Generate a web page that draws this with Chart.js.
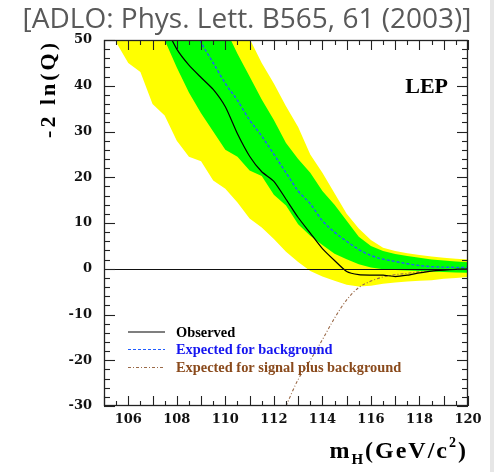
<!DOCTYPE html>
<html>
<head>
<meta charset="utf-8">
<script src="https://cdn.jsdelivr.net/npm/chart.js@4.4.0/dist/chart.umd.min.js"></script>
<style>
  html, body { margin: 0; padding: 0; background: #fff; }
</style>
</head>
<body>
<canvas id="lepChart" width="494" height="472"></canvas>
<script>
// Higgs mass hypotheses (GeV/c^2)
const massPoints = [105, 105.5, 106, 106.5, 107, 107.5, 108, 108.5, 109, 109.5,
  110, 110.5, 111, 111.5, 112, 112.5, 113, 113.5, 114, 114.5,
  115, 115.5, 116, 116.5, 117, 117.5, 118, 118.5, 119, 119.5, 120];

// -2 ln(Q) bands around the background expectation
const band2Low = [58, 49.5, 45, 43, 36, 33.5, 28, 24.5, 23.5, 19.3,
  17.5, 14.5, 11, 9, 6.5, 3.7, 1.5, -0.5, -1.7, -2.6,
  -3.5, -3.9, -3.7, -3.3, -3.0, -2.8, -2.6, -2.5, -2.2, -2.0, -1.8];
const band2High = [110, 105, 100, 95, 90, 85, 80, 75, 70, 65,
  60, 55, 50.3, 45, 40.5, 35.5, 31, 25, 21, 16.5,
  12, 8.8, 6.3, 4.6, 3.9, 3.4, 3.0, 2.7, 2.4, 2.2, 2.0];
const band1Low = [70, 65, 61, 57, 54, 50, 44, 38.5, 34, 30,
  26, 24.5, 21.5, 20.3, 16.2, 13.8, 9.7, 7.2, 5.2, 3.3,
  2.1, 1.0, 0.3, -0.1, -0.3, -0.4, -0.5, -0.6, -0.7, -0.8, -0.9];
const band1High = [102, 97, 92, 87, 82, 77, 72, 67, 62, 57,
  52.5, 47, 42, 37, 32.5, 27.5, 24, 21, 17, 14,
  10.5, 7, 5, 3.9, 3.2, 2.8, 2.4, 2.0, 1.8, 1.6, 1.4];

const observed = [74, 70, 66, 62, 58, 53.2, 48, 44.5, 41.8, 39.2,
  35.4, 29.5, 24.6, 21.2, 19.1, 15.2, 11.2, 7.8, 4.4, 1.8,
  -0.6, -1.3, -1.4, -1.4, -1.7, -1.4, -0.9, -0.5, -0.3, -0.15, -0.05];
const expectedBkg = [92, 86.5, 81, 75.5, 70, 65, 60, 55, 49.5, 45,
  40.5, 36.8, 32.5, 29, 25, 21, 17, 14.2, 10.5, 8,
  6, 4.2, 2.9, 2.1, 1.6, 1.1, 0.7, 0.45, 0.35, 0.3, 0.25];
const expectedSigBkg = [null, null, null, null, null, null, null, null, null, null,
  null, null, null, null, null, -30, -24.2, -20, -15.5, -10.8,
  -6.8, -4.1, -2.7, -1.8, -1.3, -1.0, -0.65, -0.4, -0.25, -0.12, -0.05];

const xTickValues = [106, 108, 110, 112, 114, 116, 118, 120];
const yTickValues = [-30, -20, -10, 0, 10, 20, 30, 40, 50];

const pts = arr => massPoints.map((m, i) => ({ x: m, y: arr[i] }));

const serif = 'Liberation Serif';

const band = (data, color, fill, order) => ({
  data: pts(data), backgroundColor: color, borderWidth: 0,
  pointRadius: 0, fill: fill, tension: 0, order: order
});

const datasets = [
  { label: 'Observed', data: pts(observed), borderColor: '#000', borderWidth: 1.2,
    pointRadius: 0, fill: false, tension: 0.2, order: 0, legendColor: '#000', dash: [] },
  { label: 'Expected for background', data: pts(expectedBkg), borderColor: '#1f5cff',
    borderWidth: 1.4, borderDash: [3, 2], pointRadius: 0, fill: false,
    cubicInterpolationMode: 'monotone', order: 1, legendColor: '#1515f0', dash: [3, 2] },
  { label: 'Expected for signal plus background', data: pts(expectedSigBkg),
    borderColor: '#9b6a48', borderWidth: 1.1, borderDash: [3, 2, 1, 2], pointRadius: 0,
    fill: false, cubicInterpolationMode: 'monotone', order: 2,
    legendColor: '#8a4a1c', dash: [3, 2, 1, 2] },
  band(band1High, '#00ff00', 4, 4),
  band(band1Low, 'rgba(0,0,0,0)', false, 4),
  band(band2High, '#ffff00', 6, 5),
  band(band2Low, 'rgba(0,0,0,0)', false, 5)
];

// frame, inward ticks, zero line, legend and captions
const decorations = {
  id: 'decorations',
  beforeDraw(chart) {
    const { ctx, width, height } = chart;
    ctx.save();
    ctx.fillStyle = '#fff';
    ctx.fillRect(0, 0, width, height);
    ctx.fillStyle = '#e6e6e6';
    ctx.fillRect(490, 0, width - 490, height);
    ctx.restore();
  },
  afterDatasetsDraw(chart) {
    const { ctx, chartArea: a, scales: { x, y } } = chart;
    const seg = (x1, y1, x2, y2) => { ctx.beginPath(); ctx.moveTo(x1, y1); ctx.lineTo(x2, y2); ctx.stroke(); };
    ctx.save();

    ctx.strokeStyle = '#111';
    ctx.lineWidth = 1.2;
    const y0 = Math.round(y.getPixelForValue(0)) + 0.5;
    seg(a.left, y0, a.right, y0);

    ctx.strokeStyle = '#222';
    ctx.lineWidth = 1.3;
    ctx.strokeRect(a.left + 0.5, a.top + 0.5, a.width - 1, a.height - 1);

    ctx.lineWidth = 1.1;
    for (let m = x.min; m <= x.max + 1e-9; m += 0.5) {
      const px = Math.round(x.getPixelForValue(m)) + 0.5;
      const len = Number.isInteger(m) ? 10 : 5;
      seg(px, a.bottom, px, a.bottom - len);
      seg(px, a.top, px, a.top + len);
    }
    for (let v = y.min; v <= y.max + 1e-9; v += 2) {
      const py = Math.round(y.getPixelForValue(v)) + 0.5;
      const len = v % 10 === 0 ? 11 : 6;
      seg(a.left, py, a.left + len, py);
      seg(a.right, py, a.right - len, py);
    }

    // experiment tag
    ctx.fillStyle = '#000';
    ctx.font = `bold 22px "${serif}"`;
    ctx.textAlign = 'right';
    ctx.textBaseline = 'alphabetic';
    ctx.fillText('LEP', 448, 93);

    // legend
    ctx.font = `bold 14.4px "${serif}"`;
    ctx.textAlign = 'left';
    ctx.textBaseline = 'middle';
    const rows = [332, 349.5, 367.5];
    chart.data.datasets.slice(0, 3).forEach((ds, i) => {
      ctx.strokeStyle = ds.borderColor;
      ctx.lineWidth = 1.2;
      ctx.setLineDash(ds.dash);
      seg(128, rows[i], 165, rows[i]);
      ctx.setLineDash([]);
      ctx.fillStyle = ds.legendColor;
      ctx.fillText(ds.label, 176, rows[i] + 1);
    });

    // y axis title, right-aligned to the top of the frame
    ctx.save();
    ctx.fillStyle = '#000';
    ctx.font = `bold 22px "${serif}"`;
    ctx.letterSpacing = '3px';
    ctx.translate(49, 40);
    ctx.rotate(-Math.PI / 2);
    ctx.textAlign = 'right';
    ctx.textBaseline = 'middle';
    ctx.fillText('-2 ln(Q)', 0, 0);
    ctx.restore();

    // x axis title m_H(GeV/c^2)
    const parts = [
      { t: 'm', f: 24, dy: 0 },
      { t: 'H', f: 15, dy: 6 },
      { t: '(GeV/c', f: 24, dy: 0 },
      { t: '2', f: 14, dy: -11 },
      { t: ')', f: 24, dy: 0 }
    ];
    ctx.letterSpacing = '2px';
    let total = 0;
    parts.forEach(p => { ctx.font = `bold ${p.f}px "${serif}"`; p.w = ctx.measureText(p.t).width; total += p.w; });
    let cx = 468 - total;
    ctx.fillStyle = '#000';
    ctx.textAlign = 'left';
    ctx.textBaseline = 'alphabetic';
    parts.forEach(p => {
      ctx.font = `bold ${p.f}px "${serif}"`;
      ctx.fillText(p.t, cx, 458 + p.dy);
      cx += p.w;
    });
    ctx.letterSpacing = '0px';

    // reference caption
    ctx.fillStyle = '#595959';
    ctx.font = '28px "Open Sans"';
    ctx.textAlign = 'center';
    ctx.textBaseline = 'alphabetic';
    ctx.fillText('[ADLO: Phys. Lett. B565, 61 (2003)]', 247, 28);

    ctx.restore();
  }
};

const tickFont = { family: 'DejaVu Serif', weight: 'bold', size: 13 };

new Chart('lepChart', {
  type: 'line',
  data: { datasets: datasets },
  options: {
    responsive: false,
    animation: false,
    events: [],
    layout: { padding: { top: 40, right: 26, left: 0, bottom: 0 } },
    plugins: { legend: { display: false }, tooltip: { enabled: false }, title: { display: false } },
    scales: {
      x: {
        type: 'linear', min: 105, max: 120,
        afterBuildTicks: s => { s.ticks = xTickValues.map(v => ({ value: v })); },
        afterFit: s => { s.height = 66; },
        grid: { display: false, drawTicks: false },
        border: { display: false },
        ticks: { font: tickFont, color: '#111', padding: 6, maxRotation: 0 }
      },
      y: {
        type: 'linear', min: -30, max: 50,
        afterBuildTicks: s => { s.ticks = yTickValues.map(v => ({ value: v })); },
        afterFit: s => { s.width = 104; },
        grid: { display: false, drawTicks: false },
        border: { display: false },
        ticks: { font: tickFont, color: '#111', padding: 12 }
      }
    }
  },
  plugins: [decorations]
});
</script>
</body>
</html>
